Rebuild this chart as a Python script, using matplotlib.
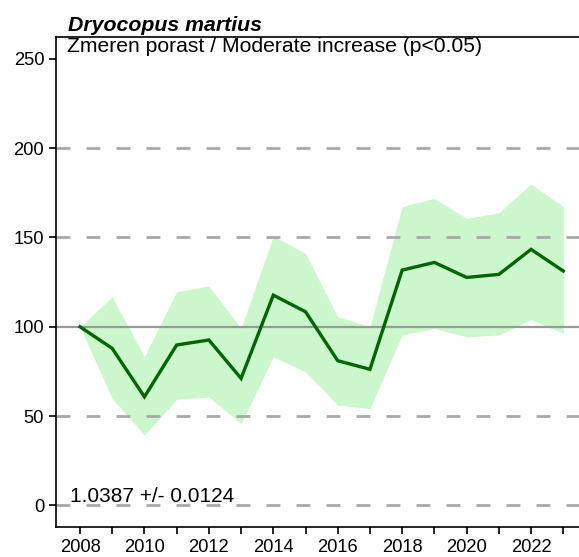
import numpy as np
import matplotlib
matplotlib.use("Agg")
import matplotlib.pyplot as plt

plt.rcParams['font.family'] = ['Liberation Sans', 'DejaVu Sans']

# data
years = list(range(2008, 2024))
index = [100, 87.9, 60.8, 89.8, 92.6, 71.1, 117.7, 108.4, 81.0, 76.2,
         131.7, 136.0, 127.6, 129.3, 143.3, 131.2]
upper = [100, 116.8, 83.2, 119.6, 122.8, 99.1, 150.8, 141.0, 105.6, 100.0,
         167.2, 171.8, 160.7, 163.8, 179.9, 167.2]
lower = [100, 59.9, 39.4, 59.4, 60.8, 45.9, 83.2, 74.8, 56.2, 54.3,
         95.4, 99.1, 94.4, 95.4, 104.1, 96.3]
grid_dashed = [0, 50, 150, 200]
yticks = [0, 50, 100, 150, 200, 250]
xlabels = list(range(2008, 2023, 2))

species = "Dryocopus martius"
trend = "Zmeren porast / Moderate increase (p<0.05)"
slope = "1.0387 +/- 0.0124"

W, H = 579, 557
fig = plt.figure(figsize=(W / 100, H / 100), dpi=100)
ax = fig.add_axes([56 / W, (H - 527.3) / H, (582.6 - 56) / W, (527.3 - 36.7) / H])

ax.fill_between(years, lower, upper, color="#ccf7cc", lw=0, zorder=1)
for g in grid_dashed:
    ax.axhline(g, color="#a8a8a8", lw=2, ls=(0, (5, 5.8)), zorder=2)
ax.axhline(100, color="#999999", lw=1.6, zorder=2)
ax.plot(years, index, color="#006400", lw=2.4, zorder=3, solid_joinstyle="miter")

ax.set_xlim(2007.255, 2023.6)
ax.set_ylim(-12.2, 262.3)
ax.set_xticks(years)
ax.set_xticklabels([str(y) if y in xlabels else "" for y in years])
ax.set_yticks(yticks)
ax.tick_params(axis="both", length=5, width=1.2, labelsize=13.2, direction="out")
ax.tick_params(axis="y", pad=3.5)
ax.tick_params(axis="x", pad=3.5)
for s in ax.spines.values():
    s.set_linewidth(1.2)

ax.text(0.0215, 0.9694, trend, transform=ax.transAxes, ha="left", va="baseline",
        fontsize=15.2)
ax.text(0.0234, 1.0122, species, transform=ax.transAxes, ha="left", va="baseline",
        fontsize=15.3, fontweight="bold", fontstyle="italic")
ax.text(2007.69, 2.2, slope, ha="left", va="baseline", fontsize=15)

fig.savefig("out.png", dpi=100)
